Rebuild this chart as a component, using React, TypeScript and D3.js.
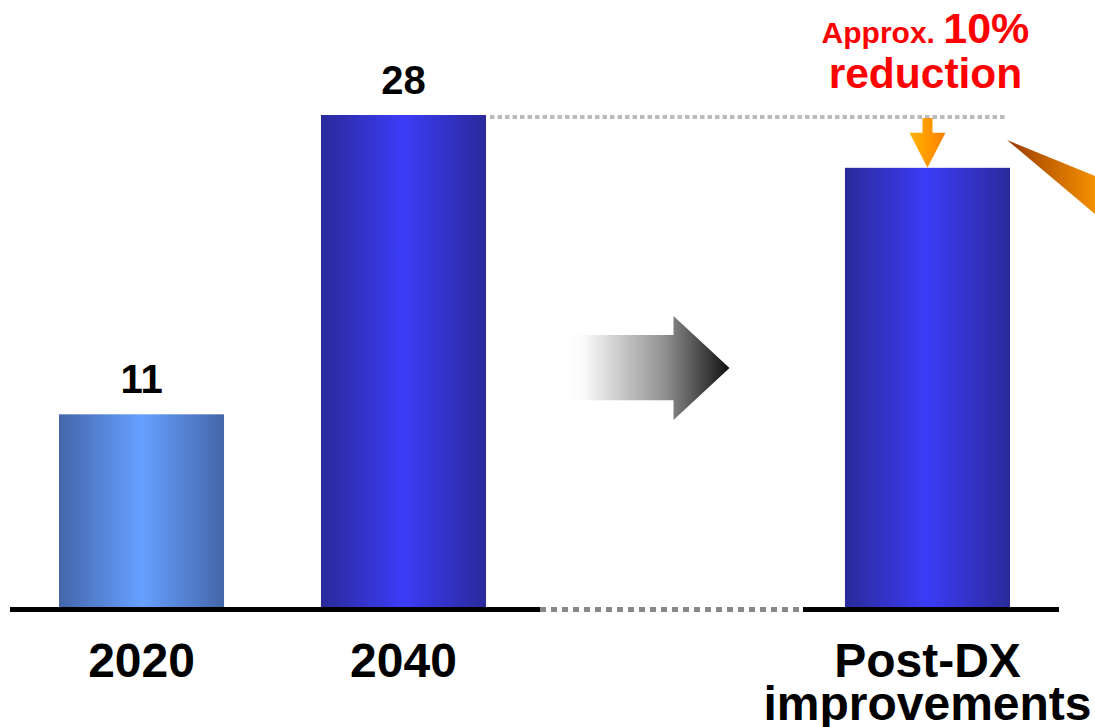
import React from "react";
import * as d3 from "d3";

const categories = ["2020", "2040", "", "Post-DX"];
const categoryLines = [["2020"], ["2040"], [], ["Post-DX", "improvements"]];
const values: (number | null)[] = [11, 28, null, 25];
const valueLabels = ["11", "28", "", ""];
const gradientIds = ["g2020", "gBlue", "", "gBlue"];
const annotationSmall = "Approx.";
const annotationBig = "10%";
const annotationLine2 = "reduction";

const W = 1095;
const H = 727;
const FONT = "'Liberation Sans', Arial, Helvetica, sans-serif";

export default function App() {
  const keys = categories.map((c, i) => c + i);
  const x = d3.scaleBand<string>().domain(keys).range([59, 1010]).paddingInner(0.37).paddingOuter(0);
  const y = d3.scaleLinear().domain([0, 28]).range([608, 115]);
  const bw = x.bandwidth();
  const cx = (i: number) => (x(keys[i]) as number) + bw / 2;

  const refY = y(values[1] as number) + 2;
  const postTop = y(values[3] as number);
  const pc = cx(3);
  const gapC = cx(2);

  const grayArrow = [
    [gapC - 98, y(15.5)],
    [gapC + 8, y(15.5)],
    [gapC + 8, y(16.58)],
    [gapC + 64, y(13.63)],
    [gapC + 8, y(10.68)],
    [gapC + 8, y(11.8)],
    [gapC - 98, y(11.8)],
  ];

  return (
    <svg width={W} height={H} style={{ position: "absolute", left: 0, top: 0, background: "#fff" }}>
      <defs>
        <linearGradient id="g2020" x1="0" x2="1" y1="0" y2="0">
          <stop offset="0" stopColor="#4466aa" />
          <stop offset="0.5" stopColor="#66a0ff" />
          <stop offset="1" stopColor="#4466aa" />
        </linearGradient>
        <linearGradient id="gBlue" x1="0" x2="1" y1="0" y2="0">
          <stop offset="0" stopColor="#2a2a9a" />
          <stop offset="0.5" stopColor="#3c3cf8" />
          <stop offset="1" stopColor="#2a2a9a" />
        </linearGradient>
        <linearGradient id="gGray" x1="0" x2="1" y1="0" y2="0">
          <stop offset="0" stopColor="#ffffff" />
          <stop offset="0.1" stopColor="#fafafa" />
          <stop offset="0.6" stopColor="#909090" />
          <stop offset="1" stopColor="#111111" />
        </linearGradient>
        <linearGradient id="gOrange" x1="0" x2="1" y1="0" y2="0">
          <stop offset="0" stopColor="#ffb400" />
          <stop offset="1" stopColor="#ff8000" />
        </linearGradient>
        <linearGradient id="gWedge" x1="0" x2="1" y1="0" y2="0">
          <stop offset="0" stopColor="#9a3c00" />
          <stop offset="1" stopColor="#f49000" />
        </linearGradient>
      </defs>

      {values.map((v, i) =>
        v == null ? null : (
          <rect
            key={i}
            x={x(keys[i])}
            y={y(v)}
            width={bw}
            height={y(0) - y(v)}
            fill={`url(#${gradientIds[i]})`}
          />
        )
      )}

      {values.map((v, i) =>
        v == null || !valueLabels[i] ? null : (
          <text key={i} x={cx(i)} y={y(v) - 21} textAnchor="middle" fontFamily={FONT} fontWeight="bold" fontSize={40} fill="#000">
            {valueLabels[i]}
          </text>
        )
      )}

      {/* baseline */}
      <line x1={10} x2={540} y1={609.5} y2={609.5} stroke="#000" strokeWidth={5} />
      <line x1={540} x2={803} y1={609.5} y2={609.5} stroke="#888" strokeWidth={5} strokeDasharray="6 5" />
      <line x1={803} x2={1059} y1={609.5} y2={609.5} stroke="#000" strokeWidth={5} />

      {/* reference dotted line */}
      <line x1={(x(keys[1]) as number) + bw + 4} x2={1006} y1={refY} y2={refY} stroke="#bbbbbb" strokeWidth={4} strokeDasharray="4.5 3" />

      {/* orange down arrow */}
      <path
        d={`M${pc - 5},${refY + 1} L${pc + 5},${refY + 1} L${pc + 5},${postTop - 35} L${pc + 18},${postTop - 35} L${pc},${postTop} L${pc - 18},${postTop - 35} L${pc - 5},${postTop - 35} Z`}
        fill="url(#gOrange)"
      />

      {/* gray arrow */}
      <path d={d3.line()(grayArrow as [number, number][]) + "Z"} fill="url(#gGray)" />

      {/* orange wedge at right */}
      <path d="M1007,140 L1095,176 L1095,214 Z" fill="url(#gWedge)" />

      {/* annotation */}
      <text x={pc - 2} y={43} textAnchor="middle" fontFamily={FONT} fontWeight="bold" fill="#ff0000">
        <tspan fontSize={30}>{annotationSmall} </tspan>
        <tspan fontSize={43}>{annotationBig}</tspan>
      </text>
      <text x={pc - 2} y={88} textAnchor="middle" fontFamily={FONT} fontWeight="bold" fontSize={42.5} fill="#ff0000">
        {annotationLine2}
      </text>

      {/* category labels */}
      {categoryLines.map((lines, i) =>
        lines.map((t, j) => (
          <text key={i + "-" + j} x={cx(i)} y={677 + j * 43} textAnchor="middle" fontFamily={FONT} fontWeight="bold" fontSize={48} fill="#000">
            {t}
          </text>
        ))
      )}
    </svg>
  );
}
